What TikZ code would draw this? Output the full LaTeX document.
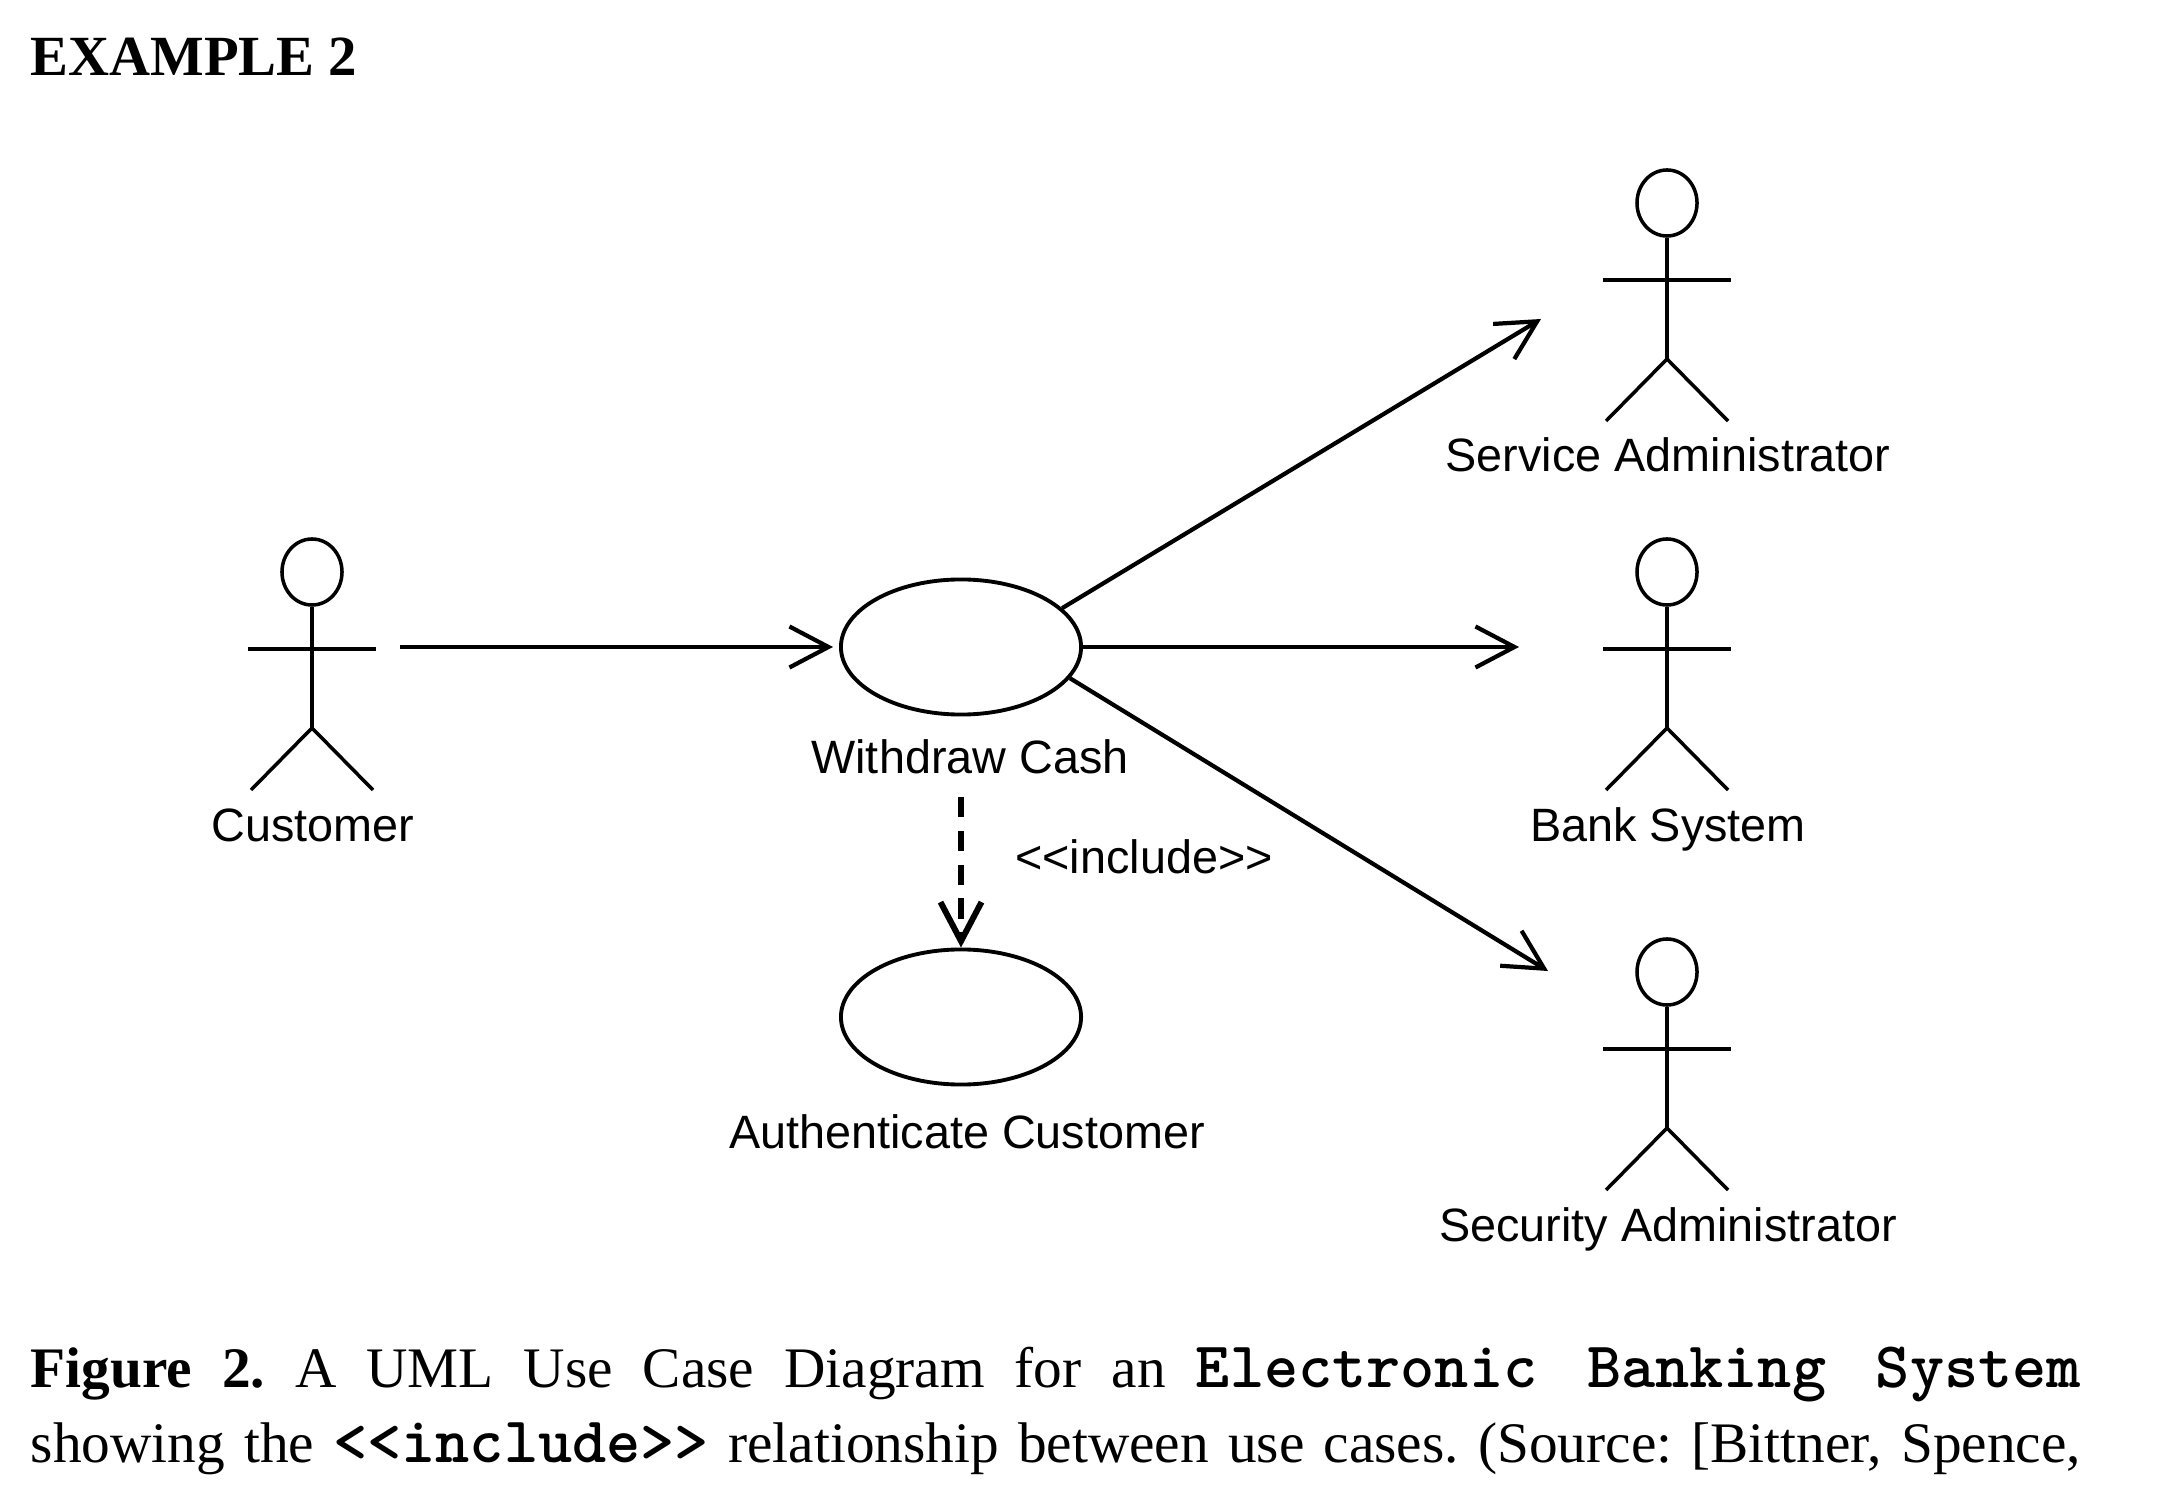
\documentclass[tikz,border=0pt]{standalone}
\usepackage{fontspec}
\setmainfont{Liberation Serif}
\newfontfamily\diagfont{Liberation Sans}
\usetikzlibrary{arrows.meta,shapes.geometric}
\tikzset{
  usecase/.style={draw,ellipse,line width=1.1pt,minimum width=2.4cm,minimum height=1.35cm,inner sep=0pt},
  head/.style={draw,ellipse,line width=1pt,minimum width=0.6cm,minimum height=0.66cm,inner sep=0pt},
  limb/.style={line width=1pt},
  umltext/.style={inner sep=0pt,font=\diagfont\fontsize{13.3}{15}\selectfont},
  assoc/.style={line width=1.2pt,-{Straight Barb[length=3.9mm,width=4.1mm]}},
  incl/.style={assoc,line width=1.7pt,dash pattern=on 5.8pt off 3.8pt},
  pagetext/.style={anchor=base west,inner sep=0pt,font=\fontsize{16.3}{20}\selectfont\frenchspacing}
}
\newcommand{\actor}[4]{
  \node[head] (#1) at (#2,#3) {};
  \draw[limb] (#1.south) -- (#2,#3+156);
  \draw[limb] (#2-64,#3+77) -- (#2+64,#3+77);
  \draw[limb] (#2-61,#3+218) -- (#2,#3+156) -- (#2+61,#3+218);
  \node[umltext,anchor=base] (#1label) at (#2+1,#3+269) {#4};
}
\newcommand{\code}[1]{{\ttfamily\bfseries\fontsize{18.5}{20}\selectfont\addfontfeatures{FakeBold=1.6}#1}}
\begin{document}
\begin{tikzpicture}[x=0.01cm,y=-0.01cm]
  \useasboundingbox (0,0) rectangle (2164,1492);
  \node[pagetext,font=\fontsize{16.15}{20}\selectfont\bfseries] (title) at (30,76) {EXAMPLE 2};
  % actors
  \actor{customer}{312}{572}{Customer}
  \actor{service}{1667}{203}{Service Administrator}
  \actor{bank}{1667}{572}{Bank System}
  \actor{security}{1667}{972}{Security Administrator}
  % use cases
  \node[usecase] (withdraw) at (961,647) {};
  \node[umltext] (withdrawlabel) at (970,757) {Withdraw Cash};
  \node[usecase] (authenticate) at (961,1017) {};
  \node[umltext] (authenticatelabel) at (967,1132) {Authenticate Customer};
  \node[umltext] (includelabel) at (1144,857) {<<include>>};
  % free ends
  \coordinate (custout) at (400,647);
  \coordinate (toservice) at (1541,319);
  \coordinate (tobank) at (1519,647);
  \coordinate (tosecurity) at (1548,971);
  \coordinate (inclout) at (961,797);
  % connectors
  \draw[assoc,shorten >=0.06cm] (custout) -- (withdraw.west);
  \draw[assoc] (withdraw.21) -- (toservice);
  \draw[assoc] (withdraw.east) -- (tobank);
  \draw[assoc] (withdraw.-16) -- (tosecurity);
  \draw[incl] (inclout) -- (authenticate.north);
  % caption
  \node[pagetext] (captionone) at (30,1387) {\makebox[20.49cm][s]{\textbf{Figure 2.} A UML Use Case Diagram for an \code{Electronic}\hspace{0.497cm}\code{Banking}\hspace{0.497cm}\code{System}}};
  \node[pagetext] (captiontwo) at (30,1462) {\makebox[20.49cm][s]{showing the \code{<<include>>} relationship between use cases. (Source: [Bittner, Spence,}};
\end{tikzpicture}
\end{document}
